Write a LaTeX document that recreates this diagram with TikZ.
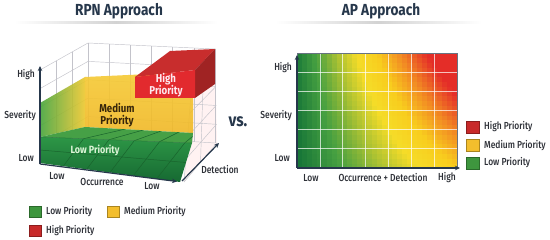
\documentclass[tikz,border=0pt]{standalone}
\usepackage{fontspec}
\setmainfont{Fira Sans}
\newfontfamily\medf{Fira Sans Medium}[FakeStretch=0.83]
\newfontfamily\cndf{Fira Sans}[FakeStretch=0.85]
\usetikzlibrary{arrows.meta,calc}
\definecolor{navy}{RGB}{38,55,75}
\definecolor{txt}{RGB}{45,48,55}
\definecolor{gridc}{RGB}{195,195,202}
\definecolor{lgreen}{RGB}{62,150,62}
\definecolor{lyellow}{RGB}{243,190,45}
\definecolor{lred}{RGB}{200,42,42}
\definecolor{hcA}{RGB}{20,115,55}
\definecolor{hcB}{RGB}{70,160,65}
\definecolor{hcC}{RGB}{175,195,50}
\definecolor{hcD}{RGB}{245,220,40}
\definecolor{hcE}{RGB}{248,205,30}
\definecolor{hcF}{RGB}{242,140,35}
\definecolor{hcG}{RGB}{228,45,40}
\definecolor{wallG}{RGB}{70,165,60}
\definecolor{wallY}{RGB}{238,200,45}
\definecolor{yelT}{RGB}{246,202,52}
\definecolor{yelB}{RGB}{240,184,38}
\definecolor{grTop}{RGB}{70,160,70}
\definecolor{grFT}{RGB}{45,150,70}
\definecolor{grFB}{RGB}{22,105,50}
\definecolor{grLine}{RGB}{25,100,45}
\definecolor{grEdge}{RGB}{40,120,55}
\definecolor{redTop}{RGB}{200,45,45}
\definecolor{redSide}{RGB}{160,35,35}
\definecolor{redFront}{RGB}{226,42,46}
\definecolor{hpText}{RGB}{253,232,238}
\definecolor{mpText}{RGB}{55,38,10}
\definecolor{lpText}{RGB}{220,245,215}
\newcommand\hmseg[4]{\pgfmathtruncatemacro\hmp{(\hms-#1)/(#2-#1)*100}\colorlet{hm}{#4!\hmp!#3}}
\newcommand\hmcolor[1]{%
  \pgfmathsetmacro\hms{min(max(#1,0),1)}%
  \ifdim\hms pt<0.15pt \hmseg{0}{0.15}{hcA}{hcB}%
  \else\ifdim\hms pt<0.3pt \hmseg{0.15}{0.3}{hcB}{hcC}%
  \else\ifdim\hms pt<0.42pt \hmseg{0.3}{0.42}{hcC}{hcD}%
  \else\ifdim\hms pt<0.55pt \hmseg{0.42}{0.55}{hcD}{hcE}%
  \else\ifdim\hms pt<0.7pt \hmseg{0.55}{0.7}{hcE}{hcF}%
  \else\ifdim\hms pt<0.88pt \hmseg{0.7}{0.88}{hcF}{hcG}%
  \else \colorlet{hm}{hcG}\fi\fi\fi\fi\fi\fi}
\tikzset{
  lab/.style={font=\medf\fontsize{10.2}{11}\selectfont, text=txt, inner sep=0pt},
  ttl/.style={font=\cndf\bfseries\fontsize{16}{17}\selectfont, text=navy, inner sep=0pt},
  blk/.style={font=\cndf\bfseries\fontsize{11.4}{12.2}\selectfont, align=center, inner sep=0pt},
  gridline/.style={draw=gridc, line width=0.45pt},
  axis/.style={draw=navy, line width=1.2pt, -{Stealth[length=5pt,width=4.5pt]}},
  sq/.style={minimum width=12pt, minimum height=11pt, inner sep=0pt, draw=#1!70!black, fill=#1, line width=0.4pt},
}
\begin{document}
\begin{tikzpicture}[x=1pt,y=-1pt]
\useasboundingbox (0,0) rectangle (550,240);
\fill[white] (0,0) rectangle (550,240);
% titles
\node[ttl] (t1) at (119,11) {RPN Approach};
\node[ttl] (t2) at (381,11) {AP Approach};
\shade[left color=white, right color=white, middle color=gray!35] (14,22) rectangle (218,23.2);
\shade[left color=white, right color=white, middle color=gray!35] (275,22) rectangle (482,23.2);

% ---------- left chart: walls ----------
\fill[white] (40,70) -- (88,43) -- (215,49) -- (215,143) -- (184,182) -- (40,163) -- cycle;
\fill[red!5] (193,68) -- (215,49) -- (217,143) -- (184,182) -- cycle;
% back wall grid
\foreach \k in {0,...,6} \draw[gridline] ({88+\k*21.17},{43+\k}) -- ({88+\k*21.17},{135+\k*1.33});
\foreach \j in {0,...,5} \draw[gridline] (88,{43+\j*18.4}) -- (215,{49+\j*18.8});
% left wall grid
\draw[gridline] (56,61) -- (56,153.7);
\draw[gridline] (72,52) -- (72,144.3);
\foreach \j in {0,...,5} \draw[gridline] (40,{70+\j*18.6}) -- (88,{43+\j*18.4});
% right wall grid
\draw[gridline] (193,68) -- (184,182);
\draw[gridline] (204,58.5) -- (200.5,162.5);
\foreach \j in {0,...,5} \draw[gridline] ({193-9*\j/5},{68+114*\j/5}) -- ({215+2*\j/5},{49+94*\j/5});

% ---------- coloured regions ----------
\shade[left color=wallG, right color=wallY, opacity=0.9]
  (40,103) -- (85,77) -- (85,127) -- (40,137) -- cycle;
\shade[top color=yelT, bottom color=yelB, opacity=0.9]
  (85,77) -- (193,72) -- (193,133) -- (85,127) -- cycle;
\fill[grTop] (40,137) -- (85,127) -- (193,133) -- (192,143) -- cycle;
\shade[top color=grFT, bottom color=grFB]
  (40,137) -- (192,143) -- (180,182) -- (40,163) -- cycle;
\begin{scope}
  \clip (40,137) -- (85,127) -- (193,133) -- (192,143) -- (180,182) -- (40,163) -- cycle;
  \foreach \k in {1,...,6} \draw[grLine, line width=0.5pt]
     ({40+140*\k/6},{163+19*\k/6}) -- ({40+152*(\k/6+0.12)},{137+6*(\k/6+0.12)}) -- ({85+108*(\k/6+0.2)},{127+6*(\k/6+0.2)});
  \draw[grLine, line width=0.5pt] (40,150) -- (186,162.5);
  \draw[grEdge, line width=0.5pt] (40,137) -- (192,143);
\end{scope}
% red block
\fill[redTop] (135,77) -- (170,51) -- (215,49) -- (195,70) -- cycle;
\fill[redSide] (195,70) -- (215,49) -- (215,84) -- (195,98) -- cycle;
\fill[redFront] (135,77) -- (195,70) -- (195,98) -- (135,98) -- cycle;

% block labels
\node[blk, text=hpText] (hp) at (166,85) {High\\Priority};
\node[blk, text=mpText] (mp) at (117,115) {Medium\\Priority};
\node[blk, text=lpText, font=\cndf\bfseries\fontsize{10.5}{11}\selectfont] (lp) at (95,150) {Low Priority};

% axes
\coordinate (sevO) at (40,164);
\coordinate (sevT) at (40,66);
\coordinate (occE) at (177,181.5);
\coordinate (detS) at (182,181);
\coordinate (detE) at (219,143);
\draw[axis] (sevO) -- (sevT);
\draw[axis] (sevO) -- (occE);
\draw[axis] (detS) -- (detE);

% axis labels
\node[lab, anchor=east] (lh) at (35,75) {High};
\node[lab, anchor=east] (ls) at (36,116) {Severity};
\node[lab, anchor=east] (ll) at (34,158) {Low};
\node[lab] (lo1) at (57,176) {Low};
\node[lab] (lo) at (102,182) {Occurrence};
\node[lab] (lo2) at (152,186) {Low};
\node[lab] (ld) at (220,170) {Detection};
\node[font=\cndf\bfseries\fontsize{18}{18}\selectfont, text=navy, inner sep=0pt] (vs) at (238,122) {vs.};

% left legend
\node[sq=lgreen] (lg1) at (35,212) {};
\node[lab, anchor=west] (lg1t) at (46,212) {Low Priority};
\node[sq=lyellow] (lg2) at (113,212) {};
\node[lab, anchor=west] (lg2t) at (124,212) {Medium Priority};
\node[sq=lred] (lg3) at (35,231) {};
\node[lab, anchor=west] (lg3t) at (46,231) {High Priority};

% ---------- right chart: heat map ----------
\begin{scope}
  \clip (297,53) rectangle (457,168);
  \foreach \i in {0,...,31}{
    \foreach \j in {0,...,23}{
      \pgfmathsetmacro\hx{(\i+0.5)/32}
      \pgfmathsetmacro\hy{(\j+0.5)/24}
      \hmcolor{\hx*(0.55+0.5*\hy)+0.03*\hy}
      \fill[hm] ({297+\i*5},{168-\j*4.7917+0.3}) rectangle ({297+(\i+1)*5+0.4},{168-(\j+1)*4.7917-0.4});
    }
  }
\end{scope}
\foreach \k in {1,...,6} \draw[white, opacity=0.7, line width=0.7pt] ({297+\k*160/7},53) -- ({297+\k*160/7},168);
\foreach \k in {1,...,5} \draw[white, opacity=0.7, line width=0.7pt] (297,{53+\k*115/6}) -- (457,{53+\k*115/6});
\draw[navy!70, line width=0.6pt] (297,53) rectangle (457,168);
\coordinate (apO) at (297,168);
\coordinate (apT) at (297,55);
\coordinate (apR) at (460,168);
\draw[axis] (apO) -- (apT);
\draw[axis] (apO) -- (apR);

\node[lab, anchor=east] (rh) at (292,68) {High};
\node[lab, anchor=east] (rs) at (292,116) {Severity};
\node[lab, anchor=east] (rl) at (290,158) {Low};
\node[lab] (rx1) at (311,178) {Low};
\node[lab] (rx) at (383,178) {Occurrence + Detection};
\node[lab] (rx2) at (447,178) {High};

% right legend
\node[sq=lred, minimum width=13pt, minimum height=12pt] (rg1) at (472.5,127) {};
\node[lab, anchor=west] (rg1t) at (484,127) {High Priority};
\node[sq=lyellow, minimum width=13pt, minimum height=12pt] (rg2) at (472.5,145.5) {};
\node[lab, anchor=west] (rg2t) at (484,145.5) {Medium Priority};
\node[sq=lgreen, minimum width=13pt, minimum height=12pt] (rg3) at (472.5,163) {};
\node[lab, anchor=west] (rg3t) at (484,163) {Low Priority};
\end{tikzpicture}
\end{document}
